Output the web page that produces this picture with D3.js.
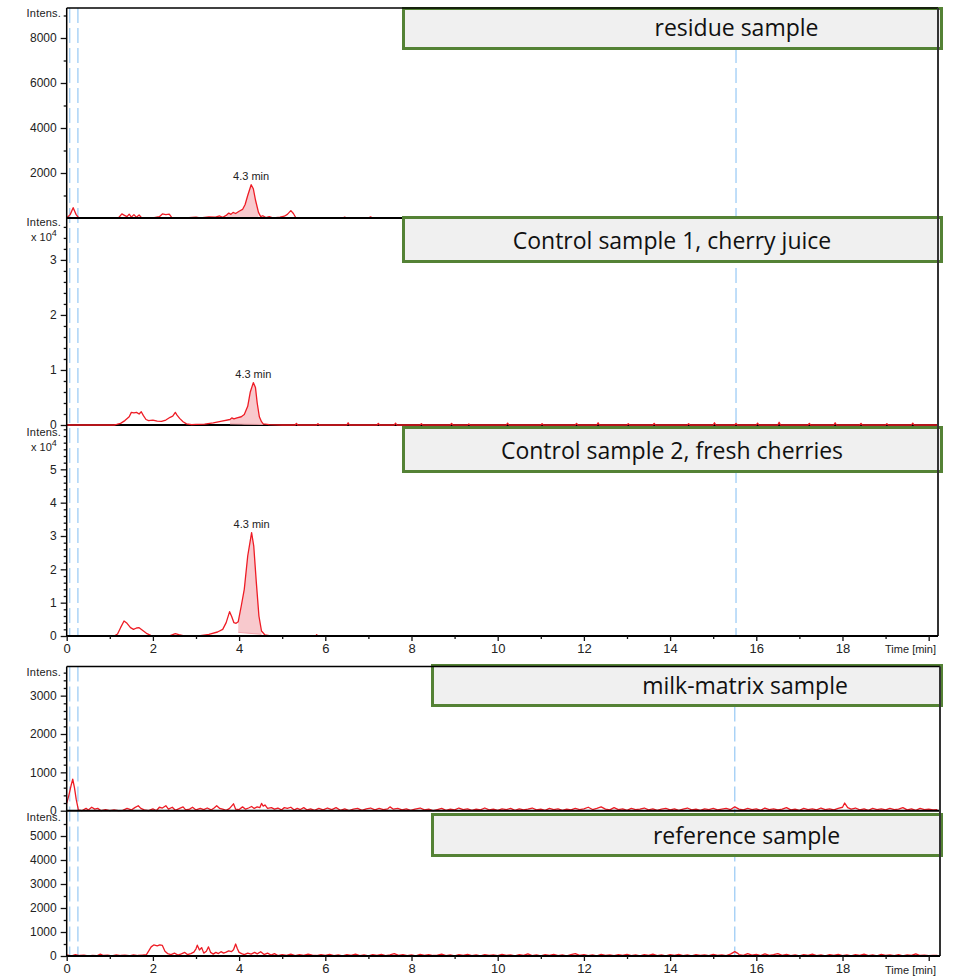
<!DOCTYPE html>
<html>
<head>
<meta charset="utf-8">
<script src="https://cdn.jsdelivr.net/npm/d3@7"></script>
<style>
  body { margin: 0; background: #fff; }
  svg { display: block; }
  text { font-family: "Liberation Sans", Arial, sans-serif; fill: #222; }
  .boxlabel { font-family: "Open Sans", sans-serif; font-size: 23px; fill: #111; }
</style>
</head>
<body>
<svg id="chart" width="954" height="976"></svg>
<script>
// ---- Sample names shown in the title boxes ----
const sampleLabels = [
  "residue sample",
  "Control sample 1, cherry juice",
  "Control sample 2, fresh cherries",
  "milk-matrix sample",
  "reference sample"
];

// ---- Extracted ion chromatograms: [time (min), intensity] ----
const residueTrace = [
  [0,0],[0.08,150],[0.15,460],[0.22,150],[0.28,0],[0.5,20],[0.6,0],[1.2,0],[1.28,180],[1.34,120],[1.4,60],
  [1.45,170],[1.5,40],[1.56,150],[1.62,30],[1.68,140],[1.74,0],[2.0,0],[2.15,60],[2.22,180],[2.3,150],
  [2.38,170],[2.44,20],[2.6,0],[2.75,10],[3.0,40],[3.1,0],[3.3,50],[3.45,40],[3.55,90],[3.62,30],
  [3.71,130],[3.76,220],[3.81,160],[3.86,250],[3.92,200],[4.0,300],[4.08,380],[4.14,600],[4.2,1000],
  [4.28,1480],[4.33,1300],[4.38,800],[4.45,250],[4.5,60],[4.55,100],[4.62,20],[4.7,60],[4.8,0],
  [4.95,40],[5.05,80],[5.12,160],[5.2,330],[5.26,200],[5.32,0],[6.4,0],[6.45,40],[6.5,0],[7.0,0],
  [7.05,50],[7.1,0],[8.4,0],[8.45,60],[8.5,0],[9.8,0],[9.85,30],[9.9,0],[11.5,0],[11.55,50],[11.6,0],
  [12.3,0],[12.35,40],[12.4,0],[15.8,0],[15.85,60],[15.9,0],[18.2,0],[18.25,50],[18.3,0],[18.7,0],
  [18.75,40],[18.8,0],[20.2,0]
];

const juiceTrace = [
  [0,0],[1.1,0],[1.16,100],[1.25,300],[1.35,800],[1.45,1500],[1.5,2300],[1.56,2200],[1.62,2300],
  [1.68,2000],[1.73,2400],[1.78,1700],[1.84,1000],[1.9,800],[2.0,900],[2.1,700],[2.2,650],[2.3,900],
  [2.4,1400],[2.46,1600],[2.52,2300],[2.56,1800],[2.62,1200],[2.7,600],[2.78,200],[2.9,50],[3.0,100],
  [3.2,150],[3.4,400],[3.6,700],[3.79,1000],[3.83,1300],[3.88,1100],[3.95,1300],[4.05,1500],[4.12,1900],
  [4.2,3400],[4.26,6000],[4.33,7700],[4.38,6800],[4.42,4000],[4.47,1500],[4.52,600],[4.56,200],[4.7,50],
  [5.0,0],[5.3,0],[5.33,300],[5.36,0],[5.8,0],[5.83,250],[5.86,0],[6.5,0],[6.53,400],[6.56,0],[7.2,0],
  [7.23,300],[7.26,0],[7.6,0],[7.63,350],[7.66,0],[8.2,0],[8.23,250],[8.26,0],[8.9,0],[8.93,300],
  [8.96,0],[9.3,0],[9.33,200],[9.36,0],[10.2,0],[10.23,350],[10.26,0],[11.0,0],[11.03,250],[11.06,0],
  [11.8,0],[11.83,300],[11.86,0],[12.3,0],[12.33,400],[12.36,0],[13.0,0],[13.03,250],[13.06,0],
  [13.6,0],[13.63,300],[13.66,0],[14.4,0],[14.43,250],[14.46,0],[15.0,0],[15.03,400],[15.06,0],
  [15.5,0],[15.53,300],[15.56,0],[16.0,0],[16.03,350],[16.06,0],[16.5,0],[16.53,500],[16.56,0],
  [17.2,0],[17.23,300],[17.26,0],[17.8,0],[17.83,400],[17.86,0],[18.4,0],[18.43,300],[18.46,0],
  [19.0,0],[19.03,250],[19.06,0],[19.6,0],[19.63,350],[19.66,0],[20.2,0]
];

const cherriesTrace = [
  [0,0],[1.1,0],[1.18,600],[1.25,2500],[1.33,4500],[1.4,3800],[1.48,2500],[1.55,2000],[1.62,2400],
  [1.68,2500],[1.75,1800],[1.85,800],[1.95,200],[2.1,0],[2.4,100],[2.52,700],[2.6,400],[2.7,100],
  [2.9,0],[3.0,0],[3.1,100],[3.3,500],[3.5,1200],[3.62,2000],[3.7,4000],[3.78,7300],[3.83,5800],
  [3.88,4000],[3.93,3800],[3.98,4300],[4.05,9000],[4.12,14000],[4.2,24000],[4.29,31000],[4.34,27000],
  [4.4,16000],[4.46,6000],[4.52,1500],[4.6,300],[4.7,100],[5.0,0],[5.78,0],[5.8,400],[5.82,0],[20.2,0]
];

const milkTrace = [
  [0,190],[0.05,400],[0.1,650],[0.14,820],[0.18,600],[0.22,300],[0.27,20],[0.35,0],[0.45,60],[0.5,20],
  [0.58,90],[0.65,40],[0.72,60],[0.8,0],[0.9,30],[1.0,0],[1.1,20],[1.2,0],[1.3,10],[1.4,60],[1.5,20],
  [1.58,80],[1.66,130],[1.72,60],[1.8,20],[1.9,0],[2.0,50],[2.08,0],[2.15,90],[2.22,70],[2.3,130],
  [2.36,40],[2.45,90],[2.52,10],[2.62,60],[2.7,100],[2.76,20],[2.85,40],[2.92,90],[3.0,20],[3.1,60],
  [3.18,30],[3.26,70],[3.35,20],[3.42,70],[3.48,130],[3.55,60],[3.62,40],[3.7,10],[3.78,60],[3.87,180],
  [3.92,40],[4.0,30],[4.08,100],[4.15,40],[4.22,70],[4.29,110],[4.35,60],[4.42,100],[4.48,80],
  [4.52,190],[4.56,120],[4.6,150],[4.66,60],[4.75,80],[4.82,40],[4.9,70],[4.98,20],[5.05,80],
  [5.12,60],[5.2,90],[5.28,20],[5.35,60],[5.42,30],[5.5,80],[5.58,20],[5.66,50],[5.75,10],[5.85,60],
  [5.95,20],[6.05,70],[6.15,30],[6.25,80],[6.35,10],[6.45,50],[6.55,0],[6.65,40],[6.75,60],[6.85,10],
  [6.95,50],[7.05,70],[7.15,20],[7.25,60],[7.35,30],[7.45,50],[7.5,100],[7.58,40],[7.68,60],[7.78,20],
  [7.88,50],[7.98,10],[8.08,40],[8.2,70],[8.3,20],[8.4,40],[8.5,0],[8.6,30],[8.7,60],[8.8,10],[8.9,40],
  [9.0,20],[9.1,70],[9.2,30],[9.3,50],[9.4,10],[9.5,40],[9.6,20],[9.7,70],[9.8,20],[9.9,40],[10.0,10],
  [10.1,50],[10.2,30],[10.3,60],[10.4,10],[10.5,50],[10.6,20],[10.7,40],[10.8,70],[10.9,20],[11.0,40],
  [11.1,10],[11.2,60],[11.3,30],[11.4,50],[11.5,10],[11.6,40],[11.7,20],[11.8,60],[11.9,30],[12.0,50],
  [12.1,90],[12.2,30],[12.3,60],[12.4,100],[12.5,40],[12.6,20],[12.7,80],[12.8,30],[12.9,50],[13.0,10],
  [13.1,60],[13.2,30],[13.3,40],[13.4,70],[13.5,20],[13.6,50],[13.7,10],[13.8,40],[13.9,60],[14.0,20],
  [14.1,50],[14.2,10],[14.3,40],[14.4,70],[14.5,20],[14.6,40],[14.7,10],[14.8,50],[14.9,30],[15.0,60],
  [15.1,20],[15.2,40],[15.3,60],[15.4,30],[15.5,100],[15.6,40],[15.7,20],[15.8,60],[15.9,30],[16.0,50],
  [16.1,10],[16.2,70],[16.3,30],[16.4,50],[16.5,20],[16.6,40],[16.7,80],[16.8,20],[16.9,40],[17.0,10],
  [17.1,60],[17.2,30],[17.3,50],[17.4,20],[17.5,70],[17.6,30],[17.7,50],[17.8,20],[17.9,60],[18.0,90],
  [18.05,200],[18.12,80],[18.2,40],[18.3,70],[18.4,20],[18.5,50],[18.6,10],[18.7,60],[18.8,30],
  [18.9,50],[19.0,20],[19.1,60],[19.2,30],[19.3,40],[19.4,80],[19.5,20],[19.6,50],[19.7,10],[19.8,60],
  [19.9,30],[20.0,40],[20.1,20],[20.2,30]
];

const referenceTrace = [
  [0,50],[0.1,0],[0.2,60],[0.3,20],[0.4,40],[0.5,0],[0.6,30],[0.7,10],[0.78,80],[0.85,20],[0.95,40],
  [1.05,0],[1.15,50],[1.25,20],[1.35,40],[1.45,10],[1.55,50],[1.65,20],[1.75,40],[1.85,60],[1.9,200],
  [1.96,380],[2.02,460],[2.1,420],[2.16,460],[2.22,440],[2.28,200],[2.34,100],[2.42,60],[2.5,120],
  [2.58,40],[2.66,90],[2.74,150],[2.8,60],[2.88,100],[2.95,160],[3.0,300],[3.03,450],[3.08,250],
  [3.13,350],[3.18,120],[3.24,200],[3.29,380],[3.34,150],[3.4,80],[3.46,150],[3.52,100],[3.58,180],
  [3.64,120],[3.7,160],[3.76,210],[3.82,180],[3.87,260],[3.92,500],[3.96,300],[4.0,150],[4.06,100],
  [4.12,60],[4.2,120],[4.28,80],[4.36,150],[4.42,90],[4.5,180],[4.58,60],[4.66,120],[4.74,40],
  [4.82,100],[4.9,20],[5.0,60],[5.1,30],[5.2,80],[5.3,20],[5.4,60],[5.5,30],[5.6,80],[5.7,40],[5.8,20],
  [5.9,60],[6.0,30],[6.1,70],[6.2,20],[6.3,50],[6.4,10],[6.5,60],[6.6,30],[6.7,80],[6.8,20],[6.9,50],
  [7.0,10],[7.1,60],[7.2,30],[7.3,70],[7.4,20],[7.5,50],[7.6,100],[7.7,30],[7.8,60],[7.9,20],[8.0,50],
  [8.1,10],[8.2,70],[8.3,30],[8.4,60],[8.5,20],[8.6,40],[8.7,80],[8.8,20],[8.9,50],[9.0,10],[9.1,60],
  [9.2,30],[9.3,70],[9.4,20],[9.5,50],[9.6,10],[9.7,60],[9.8,30],[9.9,50],[10.0,20],[10.1,70],[10.2,30],
  [10.3,50],[10.4,10],[10.5,60],[10.6,30],[10.7,90],[10.8,20],[10.9,50],[11.0,10],[11.1,60],[11.2,30],
  [11.3,70],[11.4,20],[11.5,50],[11.6,10],[11.7,60],[11.8,100],[11.9,30],[12.0,60],[12.1,20],[12.2,50],
  [12.3,10],[12.4,70],[12.5,30],[12.6,50],[12.7,20],[12.8,60],[12.9,30],[13.0,70],[13.1,20],[13.2,50],
  [13.3,10],[13.4,60],[13.5,30],[13.6,80],[13.7,20],[13.8,50],[13.9,10],[14.0,60],[14.1,30],[14.2,70],
  [14.3,20],[14.4,50],[14.5,10],[14.6,60],[14.7,30],[14.8,50],[14.9,20],[15.0,70],[15.1,30],[15.2,50],
  [15.3,20],[15.4,80],[15.5,180],[15.56,120],[15.6,60],[15.7,30],[15.8,100],[15.9,40],[16.0,70],
  [16.1,20],[16.2,90],[16.3,30],[16.4,60],[16.5,100],[16.6,30],[16.7,70],[16.8,20],[16.9,50],[17.0,10],
  [17.1,60],[17.2,30],[17.3,80],[17.4,20],[17.5,50],[17.6,10],[17.7,60],[17.8,30],[17.9,70],[18.0,20],
  [18.1,50],[18.2,10],[18.3,60],[18.4,30],[18.5,80],[18.6,20],[18.7,50],[18.8,10],[18.9,70],[19.0,30],
  [19.1,50],[19.2,20],[19.3,60],[19.4,10],[19.5,50],[19.6,30],[19.7,90],[19.8,20],[19.9,40],[20.0,10],
  [20.1,30],[20.2,20]
];

// ---- Integrated peak windows: [start, end] (min) and baseline at each end ----
const residueFill = [3.71, 4.45];
const residueFillBase = [0, 0];
const juiceFill = [3.79, 4.56];
const juiceFillBase = [200, 100];
const cherriesFill = [3.98, 4.52];
const cherriesFillBase = [1100, 500];

// ---- Axis tick values ----
const timeTicks = [0, 2, 4, 6, 8, 10, 12, 14, 16, 18];
const timeMinorTicks = [1, 3, 5, 7, 9, 11, 13, 15, 17, 19];
const residueTicks = [2000, 4000, 6000, 8000];
const juiceTicks = [0, 10000, 20000, 30000];
const cherriesTicks = [0, 10000, 20000, 30000, 40000, 50000];
const milkTicks = [0, 1000, 2000, 3000];
const referenceTicks = [0, 1000, 2000, 3000, 4000, 5000];

// Dashed marker lines (min)
const markerTimesTop = [0.07, 0.26, 15.53];
const markerTimesBottom = [0.07, 0.26, 15.5];

// ---- Drawing ----
const svg = d3.select("#chart");
const traceColor = "#ee1c25";
const fillColor = "#f8c9cd";
const markerColor = "#9fcdf5";

const blocks = [
  { top: 8, bottom: 636, right: 938, x: d3.scaleLinear().domain([0, 20.2]).range([66.7, 937.3]),
    markers: markerTimesTop, labelY: 649 },
  { top: 666.5, bottom: 956, right: 940, x: d3.scaleLinear().domain([0, 20.25]).range([66.7, 939.5]),
    markers: markerTimesBottom, labelY: 970 }
];

const panels = [
  { block: 0, trace: residueTrace, top: 8, base: 218, max: 9333, ticks: residueTicks, minorStep: 1000,
    scaleExp: false, label: sampleLabels[0], box: [402, 7, 943, 50], textX: 736.5, textY: 36,
    fill: residueFill, fillBase: residueFillBase, axisOnTop: true, intensY: 13 },
  { block: 0, trace: juiceTrace, top: 217, base: 425, max: 37800, ticks: juiceTicks, minorStep: 2000,
    scaleExp: true, label: sampleLabels[1], box: [402, 216, 943, 263], textX: 672, textY: 249,
    fill: juiceFill, fillBase: juiceFillBase, axisOnTop: false, intensY: 222 },
  { block: 0, trace: cherriesTrace, top: 427, base: 636, max: 62700, ticks: cherriesTicks, minorStep: 2000,
    scaleExp: true, label: sampleLabels[2], box: [402, 426, 943, 473], textX: 672, textY: 459,
    fill: cherriesFill, fillBase: cherriesFillBase, axisOnTop: false, intensY: 432 },
  { block: 1, trace: milkTrace, top: 666.5, base: 810.7, max: 3760, ticks: milkTicks, minorStep: 200,
    scaleExp: false, label: sampleLabels[3], box: [431, 664, 943, 707], textX: 745, textY: 694,
    fill: null, axisOnTop: true, intensY: 672 },
  { block: 1, trace: referenceTrace, top: 812, base: 956, max: 6000, ticks: referenceTicks, minorStep: 500,
    scaleExp: false, label: sampleLabels[4], box: [431, 813, 943, 857], textX: 746.5, textY: 844,
    fill: null, axisOnTop: false, intensY: 817 }
];

// Dashed marker lines behind everything
blocks.forEach(b => {
  svg.append("g").selectAll("line").data(b.markers).join("line")
    .attr("x1", d => b.x(d)).attr("x2", d => b.x(d))
    .attr("y1", b.top).attr("y2", b.bottom)
    .attr("stroke", markerColor).attr("stroke-width", 1.3)
    .attr("stroke-dasharray", "15,5");
});

panels.forEach(p => {
  const b = blocks[p.block];
  const x = b.x;
  const y = d3.scaleLinear().domain([0, p.max]).range([p.base, p.top]);
  const g = svg.append("g");

  const drawBaseline = () => {
    g.append("line").attr("x1", x.range()[0]).attr("x2", b.right)
      .attr("y1", p.base).attr("y2", p.base)
      .attr("stroke", "#000").attr("stroke-width", 2);
  };
  if (!p.axisOnTop) drawBaseline();

  // integrated peak area
  if (p.fill) {
    const [t0, t1] = p.fill;
    const baseAt = d3.scaleLinear().domain([t0, t1]).range(p.fillBase);
    const seg = p.trace.filter(d => d[0] >= t0 && d[0] <= t1);
    g.append("path").datum(seg)
      .attr("d", d3.area().x(d => x(d[0])).y0(d => y(baseAt(d[0]))).y1(d => y(d[1])))
      .attr("fill", fillColor);
    g.append("line")
      .attr("x1", x(t0)).attr("x2", x(t1))
      .attr("y1", y(p.fillBase[0])).attr("y2", y(p.fillBase[1]))
      .attr("stroke", "#f2a3ab").attr("stroke-width", 1);
  }

  g.append("path").datum(p.trace)
    .attr("d", d3.line().x(d => x(d[0])).y(d => y(d[1])))
    .attr("fill", "none").attr("stroke", traceColor).attr("stroke-width", 1.3)
    .attr("stroke-linejoin", "round");

  if (p.axisOnTop) drawBaseline();

  // peak annotation
  if (p.fill) {
    const peak = p.trace.reduce((a, d) => d[1] > a[1] ? d : a, p.trace[0]);
    g.append("text").attr("x", x(peak[0])).attr("y", y(peak[1]) - 5)
      .attr("text-anchor", "middle").attr("font-size", 11).text(`${peak[0].toFixed(1)} min`);
  }

  // y axis: major ticks with labels, minor ticks without
  const fmt = p.scaleExp ? (v => d3.format("d")(v / 10000)) : d3.format("d");
  const major = g.append("g").attr("transform", `translate(${x.range()[0]},0)`)
    .call(d3.axisLeft(y).tickValues(p.ticks).tickSize(6).tickPadding(4).tickFormat(fmt));
  major.select(".domain").remove();
  major.selectAll("text").attr("font-size", 12).attr("font-family", null).attr("fill", "#222");
  major.selectAll("line").attr("stroke", "#111").attr("stroke-width", 1.3);

  const minorVals = d3.range(p.minorStep, p.max, p.minorStep).filter(v => !p.ticks.includes(v));
  const minor = g.append("g").attr("transform", `translate(${x.range()[0]},0)`)
    .call(d3.axisLeft(y).tickValues(minorVals).tickSize(3).tickFormat(""));
  minor.select(".domain").remove();
  minor.selectAll("line").attr("stroke", "#111").attr("stroke-width", 1.3);

  // axis caption
  g.append("text").attr("x", 61).attr("y", p.intensY).attr("dy", "0.35em")
    .attr("text-anchor", "end").attr("font-size", 11).attr("letter-spacing", 0.2).text("Intens.");
  if (p.scaleExp) {
    const t = g.append("text").attr("x", 31).attr("y", p.intensY + 19).attr("font-size", 11);
    t.append("tspan").text("x 10");
    t.append("tspan").attr("dy", -5).attr("font-size", 9).text("4");
  }

  // title box
  const [bx0, by0, bx1, by1] = p.box;
  g.append("rect").attr("x", bx0 + 1.5).attr("y", by0 + 1.5)
    .attr("width", bx1 - bx0 - 3).attr("height", by1 - by0 - 3)
    .attr("fill", "#f0f0f0").attr("stroke", "#548235").attr("stroke-width", 3);
  g.append("text").attr("class", "boxlabel").attr("x", p.textX).attr("y", p.textY)
    .attr("text-anchor", "middle").text(p.label);
});

// Block frames and time axes
blocks.forEach(b => {
  const x = b.x;
  const g = svg.append("g");
  g.append("line").attr("x1", x.range()[0]).attr("x2", b.right).attr("y1", b.top).attr("y2", b.top)
    .attr("stroke", "#000").attr("stroke-width", 1.5);
  g.append("line").attr("x1", b.right).attr("x2", b.right).attr("y1", b.top).attr("y2", b.bottom)
    .attr("stroke", "#333").attr("stroke-width", 2);
  g.append("line").attr("x1", x.range()[0]).attr("x2", x.range()[0]).attr("y1", b.top).attr("y2", b.bottom + 1)
    .attr("stroke", "#000").attr("stroke-width", 1.5);

  const ax = g.append("g").attr("transform", `translate(0,${b.bottom})`)
    .call(d3.axisBottom(x).tickValues(timeTicks.concat([20])).tickSize(5).tickPadding(3)
      .tickFormat(d => d === 20 ? "" : d));
  ax.select(".domain").attr("stroke", "#000").attr("stroke-width", 2)
    .attr("d", `M${x.range()[0]},0H${b.right}`);
  ax.selectAll("text").attr("font-size", 13).attr("font-family", null).attr("fill", "#222");
  ax.selectAll("line").attr("stroke", "#111").attr("stroke-width", 1.3);
  const mn = g.append("g").attr("transform", `translate(0,${b.bottom})`)
    .call(d3.axisBottom(x).tickValues(timeMinorTicks).tickSize(3).tickFormat(""));
  mn.select(".domain").remove();
  mn.selectAll("line").attr("stroke", "#111").attr("stroke-width", 1.3);

  g.append("text").attr("x", 936).attr("y", b.labelY).attr("dy", "0.35em")
    .attr("text-anchor", "end").attr("font-size", 11).text("Time [min]");
});
</script>
</body>
</html>
